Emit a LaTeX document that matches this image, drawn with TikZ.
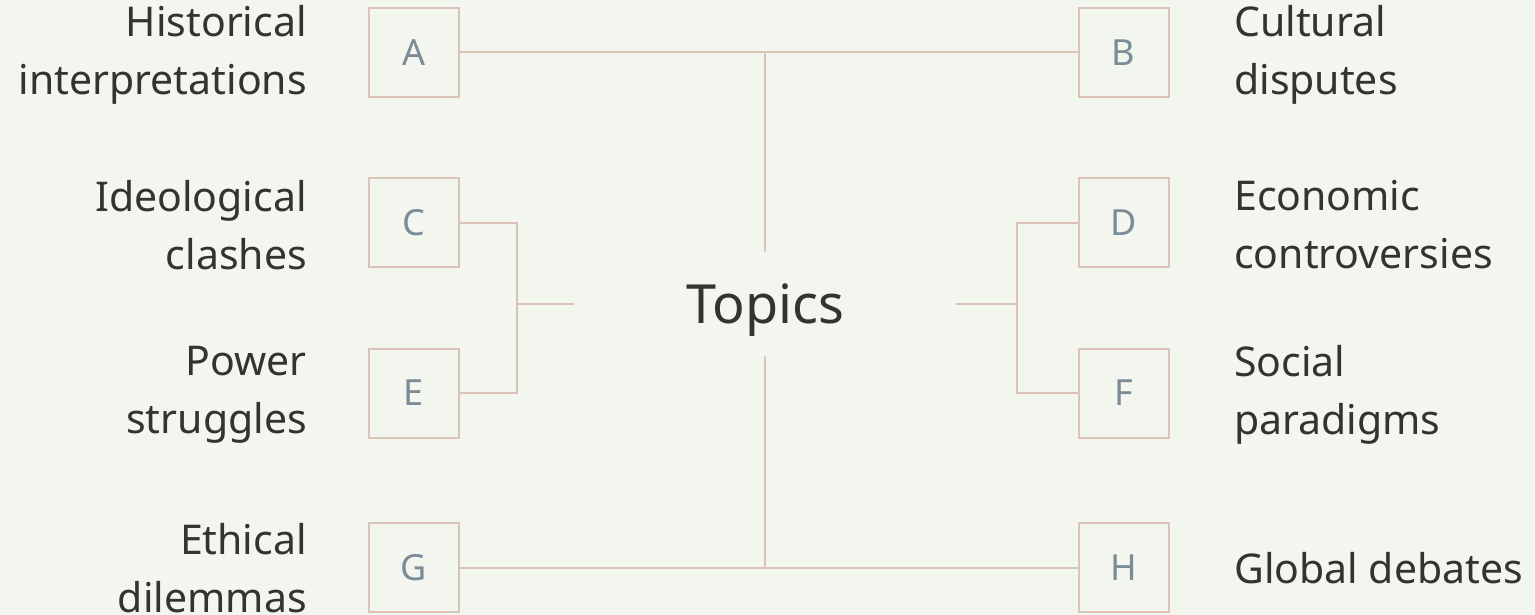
\documentclass[tikz,border=0pt]{standalone}
\usepackage{fontspec}
\setmainfont{Noto Sans}
\definecolor{bg}{HTML}{F3F5EF}
\definecolor{edge}{HTML}{D9C4B7}
\definecolor{letter}{HTML}{7A8C96}
\definecolor{ink}{HTML}{34342F}
\begin{document}
\begin{tikzpicture}[x=1pt,y=-1pt,
  box/.style={draw=edge,line width=2pt,minimum width=90pt,minimum height=89pt,inner sep=0pt,
    text=letter,font=\fontsize{36}{40}\selectfont},
  lab/.style={text=ink,font=\fontsize{41}{58}\selectfont,inner sep=0pt},
  labl/.style={lab,align=right,anchor=east},
  labr/.style={lab,align=left,anchor=west},
  conn/.style={draw=edge,line width=2pt}]
\useasboundingbox[fill=bg] (0,0) rectangle (1535,615);
\node[box] (a) at (413.5,52.5) {A};
\node[box] (b) at (1123.5,52.5) {B};
\node[box] (c) at (413.5,222.5) {C};
\node[box] (d) at (1123.5,222.5) {D};
\node[box] (e) at (413.5,393) {E};
\node[box] (f) at (1123.5,393) {F};
\node[box] (g) at (413.5,567.5) {G};
\node[box] (h) at (1123.5,567.5) {H};
\node[labl] (la) at (307,55) {Historical\\interpretations};
\node[labl] (lc) at (307,225) {Ideological\\clashes};
\node[labl] (le) at (307,395) {Power\\struggles};
\node[labl] (lg) at (307,568) {Ethical\\dilemmas};
\node[labr] (lb) at (1234,55) {Cultural\\disputes};
\node[labr] (ld) at (1234,225) {Economic\\controversies};
\node[labr] (lf) at (1234,395) {Social\\paradigms};
\node[labr] (lh) at (1234,568) {Global debates};
\node[text=ink,font=\fontsize{54}{60}\selectfont,minimum width=382pt,minimum height=103pt,inner sep=0pt,text height=38pt,text depth=0pt] (t) at (765,304) {Topics};
\coordinate (cl) at (517,304);
\coordinate (cr) at (1017,304);
\draw[conn] (a.east) -- (b.west);
\draw[conn] (g.east) -- (h.west);
\draw[conn] (t.north) -- (t.north |- a.east);
\draw[conn] (t.south) -- (t.south |- g.east);
\draw[conn] (c.east) -| (cl) |- (e.east);
\draw[conn] (t.west) -- (cl);
\draw[conn] (d.west) -| (cr) |- (f.west);
\draw[conn] (t.east) -- (cr);
\end{tikzpicture}
\end{document}
